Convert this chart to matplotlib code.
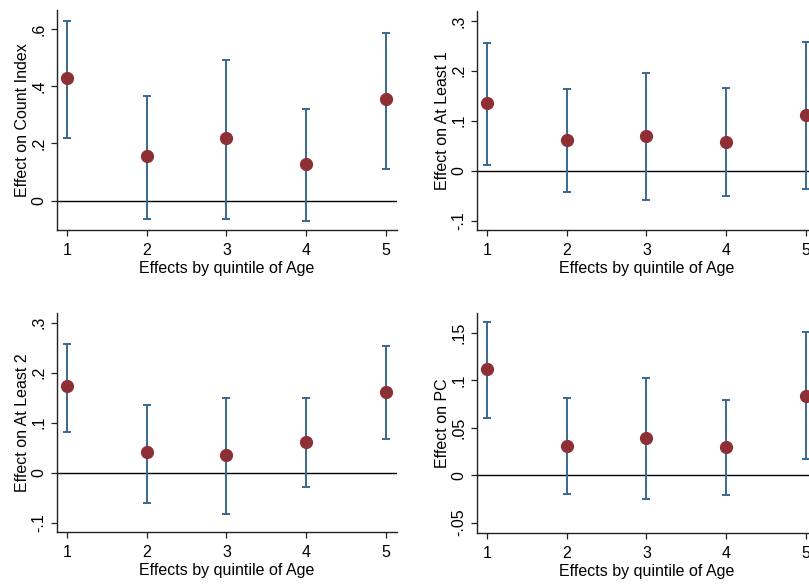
import matplotlib.pyplot as plt
import numpy as np

# Effects by quintile of Age, four outcomes (point estimate, CI low, CI high)
quintiles = [1, 2, 3, 4, 5]

count_est = [0.428, 0.156, 0.220, 0.128, 0.355]
count_lo  = [0.218, -0.063, -0.062, -0.070, 0.110]
count_hi  = [0.629, 0.366, 0.492, 0.321, 0.587]

atl1_est = [0.135, 0.061, 0.069, 0.058, 0.111]
atl1_lo  = [0.011, -0.043, -0.059, -0.051, -0.037]
atl1_hi  = [0.255, 0.163, 0.195, 0.166, 0.257]

atl2_est = [0.173, 0.041, 0.035, 0.061, 0.162]
atl2_lo  = [0.082, -0.060, -0.083, -0.029, 0.067]
atl2_hi  = [0.257, 0.136, 0.149, 0.149, 0.253]

pc_est = [0.112, 0.031, 0.039, 0.030, 0.084]
pc_lo  = [0.060, -0.020, -0.025, -0.021, 0.017]
pc_hi  = [0.161, 0.081, 0.102, 0.079, 0.151]

ylabels = ['Effect on Count Index', 'Effect on At Least 1',
           'Effect on At Least 2', 'Effect on PC']
yticks = [
    ([0, 0.2, 0.4, 0.6], ['0', '.2', '.4', '.6']),
    ([-0.1, 0, 0.1, 0.2, 0.3], ['-.1', '0', '.1', '.2', '.3']),
    ([-0.1, 0, 0.1, 0.2, 0.3], ['-.1', '0', '.1', '.2', '.3']),
    ([-0.05, 0, 0.05, 0.1, 0.15], ['-.05', '0', '.05', '.1', '.15']),
]
ylims = [(-0.102, 0.666), (-0.119, 0.32), (-0.119, 0.319), (-0.061, 0.171)]
xlabel = 'Effects by quintile of Age'

C_BAR = '#3a6891'
C_DOT = '#8e2f36'

plt.rcParams.update({
    'font.family': ['Liberation Sans', 'DejaVu Sans'],
    'font.size': 10,
})

W, H = 809, 584
fig = plt.figure(figsize=(W / 100, H / 100), dpi=100)
fig.patch.set_facecolor('white')

# axes boxes in pixels: left, top, right, bottom
boxes = [(57, 10, 397, 230), (477, 11, 817, 230),
         (57, 313, 397, 532), (477, 313, 817, 533)]

series = [(count_est, count_lo, count_hi), (atl1_est, atl1_lo, atl1_hi),
          (atl2_est, atl2_lo, atl2_hi), (pc_est, pc_lo, pc_hi)]

for i, (est, lo, hi) in enumerate(series):
    l, t, r, b = boxes[i]
    ax = fig.add_axes([l / W, (H - b) / H, (r - l) / W, (b - t) / H])
    est = np.array(est); lo = np.array(lo); hi = np.array(hi)
    ax.axhline(0, color='black', linewidth=1.0, zorder=1)
    ax.errorbar(quintiles, est, yerr=[est - lo, hi - est], fmt='none',
                ecolor=C_BAR, elinewidth=1.4, capsize=3.2, capthick=1.4, zorder=2)
    ax.plot(quintiles, est, 'o', color=C_DOT, markersize=8.5, zorder=3)
    ax.set_xlim(0.875, 5.14)
    ax.set_ylim(*ylims[i])
    ax.set_xticks(quintiles)
    ax.set_yticks(yticks[i][0])
    ax.set_yticklabels(yticks[i][1], rotation=90, va='center')
    ax.tick_params(axis='both', length=4.5, width=0.9, labelsize=11.5, pad=5,
                   color='#222222')
    ax.tick_params(axis='y', pad=3)
    for s in ['top', 'right']:
        ax.spines[s].set_visible(False)
    for s in ['left', 'bottom']:
        ax.spines[s].set_linewidth(1.0)
        ax.spines[s].set_color('#222222')
    ax.set_ylabel(ylabels[i], fontsize=11.5)
    ax.set_xlabel(xlabel, fontsize=11.5)
    ax.yaxis.set_label_coords(-0.078, 0.5)
    ax.xaxis.set_label_coords(0.5, -0.14)

fig.savefig('out.png', dpi=100, facecolor='white')
